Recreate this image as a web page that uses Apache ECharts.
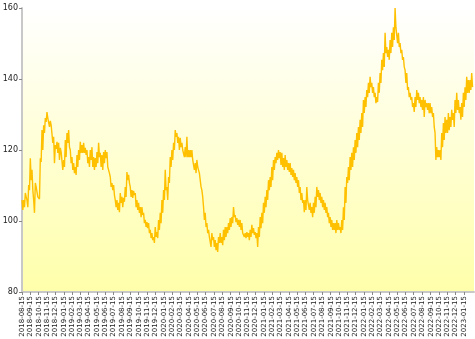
<!DOCTYPE html>
<html>
<head>
<meta charset="utf-8">
<script src="https://cdn.jsdelivr.net/npm/echarts@6/dist/echarts.min.js"></script>
<style>
  html, body { margin: 0; padding: 0; background: #fff; }
  #chart { width: 475px; height: 339px; }
</style>
</head>
<body>
<div id="chart"></div>
<script>
// series start and spacing of the readings (days)
var startDate = [2018, 7, 15];
var stepDays = 3.04;

// price readings, taken off the picture as high/low pairs
var prices = [
  105.9, 103.1, 105.9, 103.9, 107.9, 106.8, 105.9, 103.9, 110.1, 108.7,
  117.7, 111.5, 114.4, 108.7, 105.9, 102.3, 110.7, 109.6, 109.3, 106.8,
  107.3, 106.2, 117.7, 116.6, 125.6, 120.0, 127.0, 124.8, 129.0, 127.9,
  130.7, 129.0, 128.5, 126.5, 128.2, 127.0, 126.5, 122.0, 123.7, 116.3,
  121.4, 120.3, 122.3, 119.2, 122.0, 117.2, 120.6, 119.4, 119.2, 114.4,
  117.2, 115.2, 122.8, 118.0, 124.8, 122.0, 125.6, 120.8, 120.0, 116.3,
  118.0, 114.4, 116.3, 113.5, 115.2, 113.0, 118.6, 115.2, 120.0, 117.2,
  122.3, 119.2, 121.4, 119.2, 122.0, 119.2, 120.6, 118.6, 120.0, 116.3,
  118.0, 115.2, 120.0, 117.2, 120.8, 115.2, 118.0, 114.4, 117.7, 115.2,
  119.4, 116.3, 122.0, 118.0, 119.2, 115.2, 118.6, 114.4, 119.4, 116.3,
  120.0, 117.7, 119.4, 115.2, 115.2, 113.5, 112.4, 109.6, 110.7, 108.7,
  110.1, 107.3, 105.9, 103.9, 105.9, 103.1, 105.1, 102.5, 107.9, 105.1,
  106.8, 103.9, 106.5, 105.4, 109.6, 106.8, 113.8, 111.5, 113.0, 110.7,
  109.6, 106.8, 108.7, 106.5, 108.5, 107.3, 107.9, 103.9, 105.9, 103.1,
  105.1, 102.3, 103.9, 101.1, 103.9, 101.7, 102.3, 99.4, 100.3, 98.3,
  99.7, 98.0, 99.4, 96.6, 97.5, 95.2, 96.6, 94.6, 95.5, 93.8,
  98.3, 95.5, 96.9, 95.2, 100.3, 97.5, 102.3, 99.4, 105.9, 102.3,
  108.7, 105.9, 114.4, 108.7, 109.6, 105.9, 112.4, 110.7, 118.0, 115.2,
  120.0, 117.2, 122.0, 120.0, 125.6, 123.7, 124.8, 122.0, 123.7, 120.0,
  123.4, 120.8, 122.0, 120.0, 120.0, 118.0, 120.8, 118.0, 123.7, 118.0,
  120.0, 118.0, 120.0, 118.0, 120.0, 117.2, 117.2, 114.4, 116.3, 113.5,
  117.2, 115.2, 115.2, 113.5, 113.5, 109.6, 108.7, 106.8, 103.9, 100.3,
  102.3, 98.3, 99.4, 96.6, 97.5, 95.5, 95.5, 92.7, 96.6, 94.6,
  95.5, 92.7, 94.6, 91.8, 93.8, 91.3, 95.5, 93.8, 96.6, 93.8,
  95.5, 93.2, 97.5, 94.6, 98.3, 95.5, 98.3, 96.6, 99.4, 97.5,
  100.8, 98.3, 101.1, 99.4, 103.9, 101.1, 101.7, 99.7, 100.8, 98.9,
  100.3, 98.3, 100.3, 97.5, 99.4, 96.6, 96.9, 95.5, 96.6, 95.2,
  96.9, 95.5, 96.6, 94.6, 97.5, 95.5, 98.9, 96.6, 98.0, 96.1,
  96.9, 95.2, 96.6, 92.7, 98.3, 95.5, 101.1, 98.0, 102.3, 99.4,
  105.1, 102.3, 106.8, 103.9, 108.7, 105.9, 111.5, 108.7, 112.4, 109.6,
  115.2, 111.5, 117.2, 114.4, 118.0, 116.3, 119.2, 117.2, 120.0, 117.7,
  119.4, 115.8, 119.2, 115.2, 117.7, 114.4, 118.6, 115.2, 117.2, 114.4,
  116.3, 113.8, 116.3, 113.0, 114.9, 112.4, 114.4, 111.5, 113.5, 110.7,
  112.4, 109.6, 111.5, 107.9, 109.6, 105.9, 107.9, 105.1, 105.9, 102.5,
  105.9, 103.1, 109.6, 105.9, 105.9, 103.1, 105.1, 102.3, 103.9, 101.1,
  105.1, 102.3, 106.8, 103.9, 109.6, 106.8, 108.7, 105.9, 107.9, 105.1,
  106.8, 103.9, 105.9, 103.1, 105.1, 102.3, 103.9, 101.1, 102.3, 99.4,
  101.1, 98.3, 100.3, 97.5, 99.4, 97.5, 99.4, 96.6, 100.3, 97.5,
  99.4, 97.5, 98.3, 96.6, 100.3, 97.5, 103.9, 100.3, 109.6, 105.1,
  112.4, 110.7, 115.2, 111.5, 118.0, 114.4, 119.2, 115.2, 120.8, 117.2,
  122.8, 119.2, 124.8, 120.8, 126.5, 122.8, 128.5, 124.8, 130.4, 126.5,
  134.1, 130.4, 134.9, 132.1, 136.9, 134.9, 138.9, 136.1, 140.6, 137.7,
  138.9, 136.1, 137.7, 134.9, 136.1, 133.2, 134.9, 133.5, 138.9, 136.1,
  141.7, 138.9, 145.4, 142.5, 147.3, 143.4, 153.0, 147.3, 149.0, 146.2,
  148.2, 145.4, 151.0, 147.3, 153.0, 149.0, 154.6, 151.0, 160.0, 154.6,
  154.6, 150.1, 153.0, 149.0, 150.1, 147.3, 148.2, 145.4, 146.2, 143.4,
  142.5, 138.9, 141.7, 136.9, 137.7, 134.9, 136.1, 134.1, 134.9, 132.1,
  133.2, 130.7, 134.9, 132.1, 136.9, 134.1, 136.1, 133.2, 134.9, 132.1,
  134.1, 131.3, 134.9, 129.3, 134.1, 132.1, 133.2, 131.3, 133.2, 130.4,
  133.2, 130.4, 132.1, 129.3, 130.4, 126.5, 124.8, 117.2, 120.8, 118.0,
  120.0, 118.0, 120.0, 117.2, 124.8, 120.8, 127.6, 122.8, 129.3, 124.8,
  128.5, 124.8, 130.4, 125.6, 129.3, 126.5, 131.3, 128.5, 130.4, 126.5,
  134.1, 130.4, 136.1, 131.3, 134.1, 130.4, 132.1, 128.5, 133.2, 129.3,
  136.1, 132.1, 137.7, 134.1, 140.6, 136.1, 139.7, 136.1, 139.7, 136.9,
  141.7, 137.7
];

// tick label dates: the 15th of each month, 2018-08 .. 2023-01
var firstTick = [2018, 7];
var tickCount = 54;

var dayMs = 24 * 3600 * 1000;
var t0 = Date.UTC(startDate[0], startDate[1], startDate[2]);

// x is measured in days since the start date
var seriesData = prices.map(function (v, i) {
  return [i * stepDays, v];
});

var tickValues = [];
for (var m = 0; m < tickCount; m++) {
  tickValues.push(Math.round((Date.UTC(firstTick[0], firstTick[1] + m, 15) - t0) / dayMs));
}

function pad(n) { return n < 10 ? '0' + n : '' + n; }
function fmtDay(v) {
  var d = new Date(t0 + Math.round(v) * dayMs);
  return d.getUTCFullYear() + '-' + pad(d.getUTCMonth() + 1) + '-' + pad(d.getUTCDate());
}

var chart = echarts.init(document.getElementById('chart'), null, { renderer: 'canvas' });
chart.setOption({
  animation: false,
  backgroundColor: '#ffffff',
  grid: {
    left: 22,
    right: 1,
    top: 8,
    bottom: 47,
    outerBoundsMode: 'none',
    containLabel: false,
    show: true,
    borderWidth: 0,
    backgroundColor: new echarts.graphic.LinearGradient(0, 0, 0, 1, [
      { offset: 0, color: '#ffffff' },
      { offset: 1, color: '#ffffaa' }
    ])
  },
  xAxis: {
    type: 'value',
    min: 0,
    max: 1650,
    axisLine: { show: true, lineStyle: { color: '#c8c8c8', width: 2 } },
    axisTick: {
      show: true,
      length: 3,
      customValues: tickValues,
      lineStyle: { color: '#888' }
    },
    axisLabel: {
      customValues: tickValues,
      rotate: 90,
      margin: 4,
      fontSize: 7,
      fontFamily: 'DejaVu Sans',
      color: '#222',
      formatter: function (v) { return fmtDay(v); }
    },
    splitLine: { show: false }
  },
  yAxis: {
    type: 'value',
    min: 80,
    max: 160,
    interval: 20,
    axisLine: { show: true, lineStyle: { color: '#c8c8c8', width: 2 } },
    axisTick: { show: true, length: 3, lineStyle: { color: '#888' } },
    axisLabel: {
      margin: 4,
      fontSize: 8,
      fontFamily: 'DejaVu Sans',
      color: '#222'
    },
    splitLine: { show: false }
  },
  series: [{
    type: 'line',
    data: seriesData,
    showSymbol: false,
    symbol: 'none',
    lineStyle: { color: '#ffc000', width: 1.4 }
  }]
});
</script>
</body>
</html>
